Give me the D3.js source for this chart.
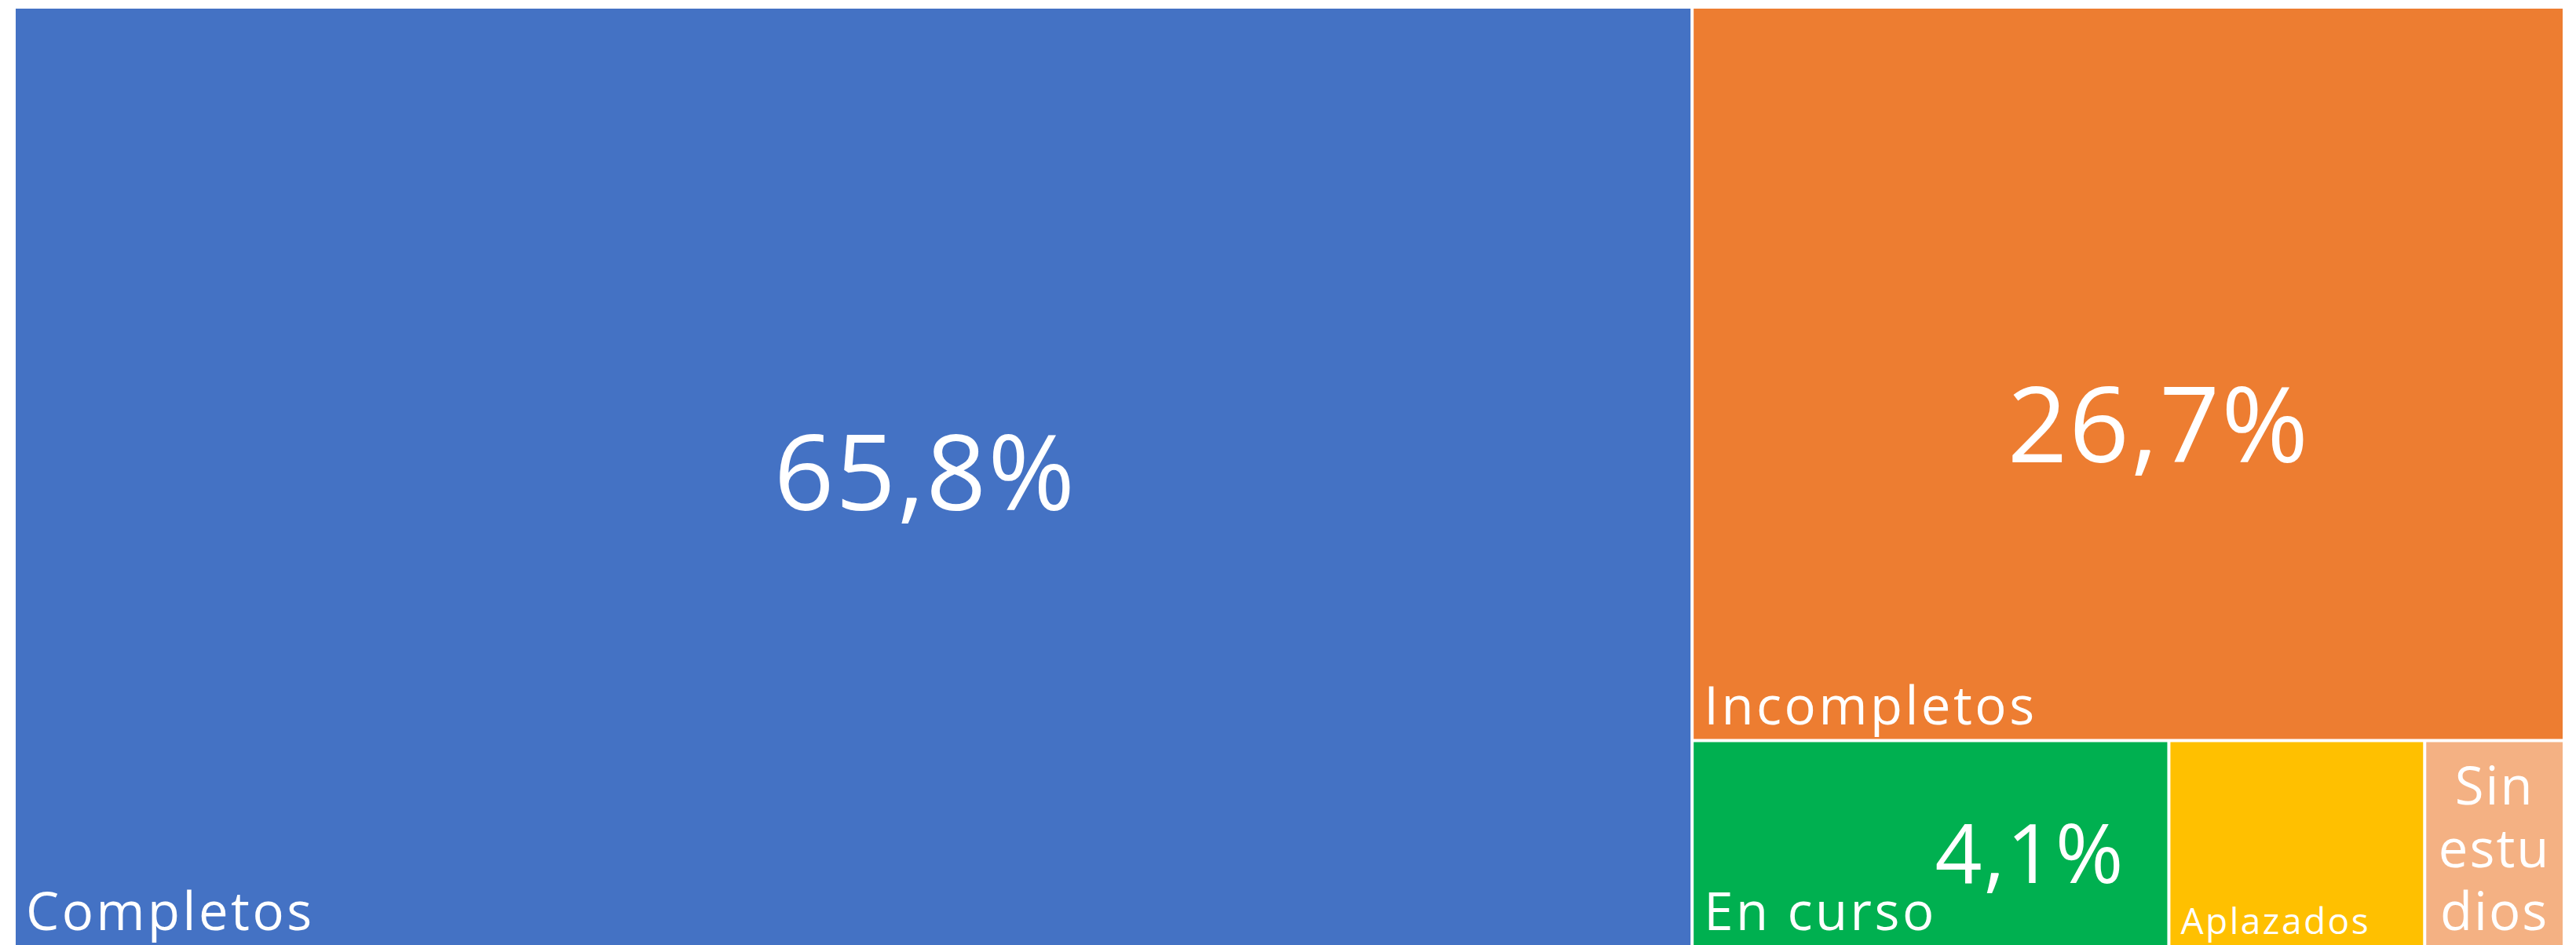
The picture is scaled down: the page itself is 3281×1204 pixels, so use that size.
<!DOCTYPE html>
<html>
<head>
<meta charset="utf-8">
<script src="https://cdn.jsdelivr.net/npm/d3@7"></script>
<style>
  html, body { margin: 0; padding: 0; background: #fff; }
  svg { display: block; }
  text { font-family: "Open Sans", sans-serif; fill: #fff; }
</style>
</head>
<body>
<svg id="chart"></svg>
<script>
// Data
let categories = ['Completos', 'Incompletos', 'En curso', 'Aplazados', 'Sin estudios'];
let shares = [65.8, 26.7, 4.1, 2.2, 1.2];
let colors = ['#4472C4', '#ED7D31', '#00B050', '#FFC000', '#F4B183'];
let showValue = [true, true, true, false, false];

// Label placement (fraction of the cell) and text sizes
const valueAnchor = [[0.543, 0.536], [0.535, 0.621], [0.71, 0.696]];
const valueSize = [134, 134, 105, 0, 0];
const nameFit = ['normal', 'normal', 'normal', 'shrink', 'wrap'];

const W = 3281, H = 1204;
const margin = {top: 11, right: 17, bottom: 0, left: 20};
const innerW = W - margin.left - margin.right;
const innerH = H - margin.top - margin.bottom;
const NAME_SIZE = 67;

let fmt = d3.formatLocale({decimal: ',', thousands: '.', grouping: [3], currency: ['', '€']}).format('.1f');

let svg = d3.select('#chart')
    .attr('width', W)
    .attr('height', H);

let g = svg.append('g')
    .attr('transform', `translate(${margin.left},${margin.top})`);

let items = categories.map((c, i) => ({name: c, value: shares[i], i: i}));

let root = d3.hierarchy({children: items})
    .sum(d => d.value || 0);

d3.treemap()
    .tile(d3.treemapSquarify.ratio(1))
    .size([innerW, innerH])
    .paddingInner(4)
    .round(false)(root);

let cells = g.selectAll('g.cell')
    .data(root.leaves())
  .enter().append('g')
    .attr('class', 'cell')
    .attr('transform', d => `translate(${d.x0},${d.y0})`);

cells.append('rect')
    .attr('width', d => d.x1 - d.x0)
    .attr('height', d => d.y1 - d.y0)
    .attr('fill', d => colors[d.data.i]);

// Value labels
cells.filter(d => showValue[d.data.i])
  .append('text')
    .attr('text-anchor', 'middle')
    .attr('x', d => (d.x1 - d.x0) * valueAnchor[d.data.i][0])
    .attr('y', d => (d.y1 - d.y0) * valueAnchor[d.data.i][1])
    .style('font-size', d => valueSize[d.data.i] + 'px')
    .style('letter-spacing', '2px')
    .text(d => fmt(d.data.value) + '%');

// Category labels, bottom-left
cells.each(function(d) {
    let cell = d3.select(this);
    let w = d.x1 - d.x0, h = d.y1 - d.y0;
    let mode = nameFit[d.data.i];
    if (mode === 'wrap') {
        // break the word into chunks that fit the narrow cell
        let probe = cell.append('text').style('font-size', NAME_SIZE + 'px');
        let lines = [];
        d.data.name.split(' ').forEach(word => {
            let cur = '';
            for (let ch of word) {
                probe.text(cur + ch);
                if (probe.node().getComputedTextLength() > w - 24 && cur) {
                    lines.push(cur);
                    cur = ch;
                } else {
                    cur += ch;
                }
            }
            lines.push(cur);
        });
        probe.remove();
        let lh = 80;
        lines.forEach((ln, k) => {
            cell.append('text')
                .attr('text-anchor', 'middle')
                .attr('x', w / 2)
                .attr('y', h - 19 - (lines.length - 1 - k) * lh)
                .style('font-size', NAME_SIZE + 'px')
                .style('letter-spacing', '2px')
                .text(ln);
        });
        return;
    }
    let t = cell.append('text')
        .attr('x', 13)
        .attr('y', h - 19)
        .style('font-size', NAME_SIZE + 'px')
        .style('letter-spacing', '3.5px')
        .text(d.data.name);
    if (mode === 'shrink') {
        t.style('font-size', '46px')
            .style('letter-spacing', '2.5px')
            .attr('y', h - 14);
    }
});
</script>
</body>
</html>
